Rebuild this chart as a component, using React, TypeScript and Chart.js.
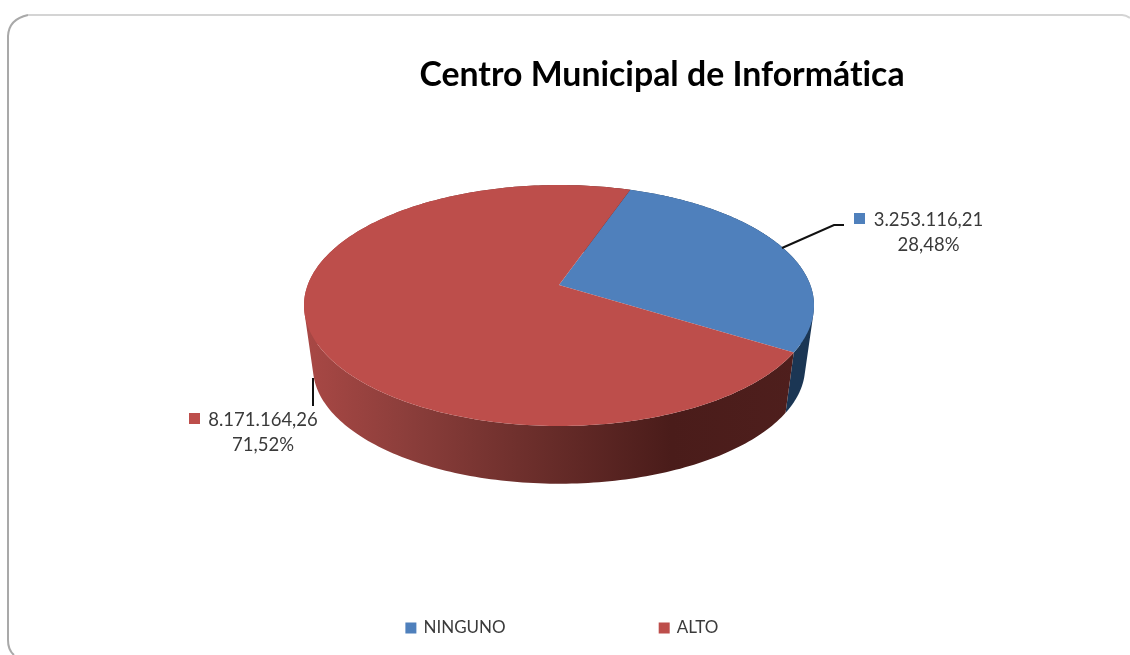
import React, { useEffect, useRef } from "react";
import { Chart, registerables } from "chart.js";

Chart.register(...registerables);

const TITLE = "Centro Municipal de Informática";
const categories = ["NINGUNO", "ALTO"];
const values = [3253116.21, 8171164.26];
const sliceColors = ["#4F80BC", "#BD4E4B"];
const FONT = "Lato";

const toPt = (theta: number, depth = 0) => {
  // projects the unit circle of the pie onto the tilted, perspective disc
  const u = Math.cos(theta), v = Math.sin(theta);
  const k = -0.17;
  const w = 1 + k * v;
  const X = 559 + (251.3 * u) / w;
  const Y = 285 + (117 * v) / w;
  if (!depth) return [X, Y];
  return [559 + (X - 559) * 0.965, 367 + (Y - 305) * 0.965];
};

const sideFill = (ctx: CanvasRenderingContext2D, i: number) => {
  const g = ctx.createLinearGradient(304, 0, 814, 0);
  if (i === 0) {
    g.addColorStop(0, "#1B3654");
    g.addColorStop(1, "#1B3654");
  } else {
    g.addColorStop(0, "#A94845");
    g.addColorStop(0.2, "#8C3E3B");
    g.addColorStop(0.42, "#6F302D");
    g.addColorStop(0.72, "#4A1C1A");
    g.addColorStop(1, "#4F1F1D");
  }
  return g;
};

const fmt = (n: number) =>
  n.toLocaleString("es-ES", { minimumFractionDigits: 2, maximumFractionDigits: 2, useGrouping: true });

const labelLayout = [
  { box: [854, 213], x: 928.5, y1: 220, y2: 245, line: [[782, 248], [834, 225], [844, 225]] },
  { box: [189, 413], x: 263, y1: 420, y2: 445, line: [[313, 378], [313, 406]] },
];

const piePlugin = {
  id: "pie3d",
  afterLayout(chart: any) {
    const legend = chart.legend;
    const pad = legend.options.labels.padding;
    legend.left -= 4.75;
    legend.top = 628 - pad - legend.options.labels.font.size / 2;
    chart.titleBlock.left += 97;
    chart.titleBlock.right += 97;
  },
  beforeDraw(chart: any) {
    const { ctx } = chart;
    ctx.letterSpacing = "0.01px";
    ctx.save();
    ctx.fillStyle = "#fff";
    ctx.fillRect(0, 0, 1130, 655);
    ctx.lineWidth = 2;
    ctx.strokeStyle = "#A9A9A9";
    ctx.beginPath();
    ctx.moveTo(14, 655);
    ctx.quadraticCurveTo(8, 650, 8, 640);
    ctx.lineTo(8, 36);
    ctx.quadraticCurveTo(9, 19, 28, 15);
    ctx.stroke();
    ctx.strokeStyle = "#D4D4D4";
    ctx.beginPath();
    ctx.moveTo(28, 15);
    ctx.lineTo(1122, 15);
    ctx.quadraticCurveTo(1126, 15, 1130, 18);
    ctx.stroke();
    ctx.restore();
  },
  beforeDatasetDraw(chart: any, args: any) {
    const { ctx } = chart;
    const arcs = args.meta.data;
    ctx.save();
    // side walls
    arcs.forEach((arc: any, i: number) => {
      const a0 = arc.startAngle, a1 = arc.endAngle;
      const n = 240;
      ctx.beginPath();
      for (let s = 0; s < n; s++) {
        const p = a0 + ((a1 - a0) * s) / n, q = a0 + ((a1 - a0) * (s + 1)) / n;
        const pts = [toPt(p), toPt(q), toPt(q, 1), toPt(p, 1)];
        // keep every quad in the same winding so their union is solid
        let area = 0;
        pts.forEach((a, j) => {
          const b = pts[(j + 1) % 4];
          area += a[0] * b[1] - b[0] * a[1];
        });
        const ordered = area < 0 ? pts.slice().reverse() : pts;
        ordered.forEach((pt, j) => (j ? ctx.lineTo(pt[0], pt[1]) : ctx.moveTo(pt[0], pt[1])));
        ctx.closePath();
      }
      ctx.fillStyle = sideFill(ctx, i);
      ctx.fill();
    });
    // top face
    arcs.forEach((arc: any, i: number) => {
      const a0 = arc.startAngle, a1 = arc.endAngle;
      const n = 240;
      ctx.beginPath();
      ctx.moveTo(559, 285);
      for (let s = 0; s <= n; s++) {
        const [x, y] = toPt(a0 + ((a1 - a0) * s) / n);
        ctx.lineTo(x, y);
      }
      ctx.closePath();
      ctx.fillStyle = sliceColors[i];
      ctx.fill();
    });
    ctx.restore();
    return false;
  },
  afterDatasetsDraw(chart: any) {
    const { ctx } = chart;
    const sum = values.reduce((a, b) => a + b, 0);
    ctx.save();
    labelLayout.forEach((l, i) => {
      ctx.strokeStyle = "#111";
      ctx.lineWidth = 2;
      ctx.beginPath();
      l.line.forEach((p, j) => (j ? ctx.lineTo(p[0], p[1]) : ctx.moveTo(p[0], p[1])));
      ctx.stroke();
      ctx.fillStyle = sliceColors[i];
      ctx.fillRect(l.box[0], l.box[1], 11, 11);
      ctx.fillStyle = "#3A3A3A";
      ctx.font = `18.5px ${FONT}`;
      ctx.textAlign = "center";
      ctx.textBaseline = "middle";
      ctx.fillText(fmt(values[i]), l.x, l.y1);
      ctx.fillText(fmt((values[i] / sum) * 100) + "%", l.x, l.y2);
    });
    ctx.restore();
  },
};

export default function App() {
  const ref = useRef<HTMLCanvasElement>(null);
  useEffect(() => {
    document.body.style.margin = "0";
    const chart = new Chart(ref.current!, {
      type: "pie",
      data: {
        labels: categories,
        datasets: [{ data: values, backgroundColor: sliceColors, borderColor: sliceColors, borderWidth: 3 }],
      },
      options: {
        animation: false,
        responsive: false,
        rotation: 19.2,
        plugins: {
          tooltip: { enabled: false },
          title: {
            display: true,
            text: TITLE,
            color: "#000",
            font: { family: FONT, size: 33.8, weight: "bold" },
            padding: { top: 55, bottom: 0 },
          },
          legend: {
            position: "bottom",
            labels: {
              boxWidth: 8,
              boxHeight: 8,
              padding: 154.5,
              color: "#3A3A3A",
              font: { family: FONT, size: 17 },
            },
          },
        },
      },
      plugins: [piePlugin],
    } as any);
    return () => chart.destroy();
  }, []);
  return <canvas ref={ref} width={1130} height={655} style={{ display: "block", filter: "blur(0.5px)" }} />;
}
